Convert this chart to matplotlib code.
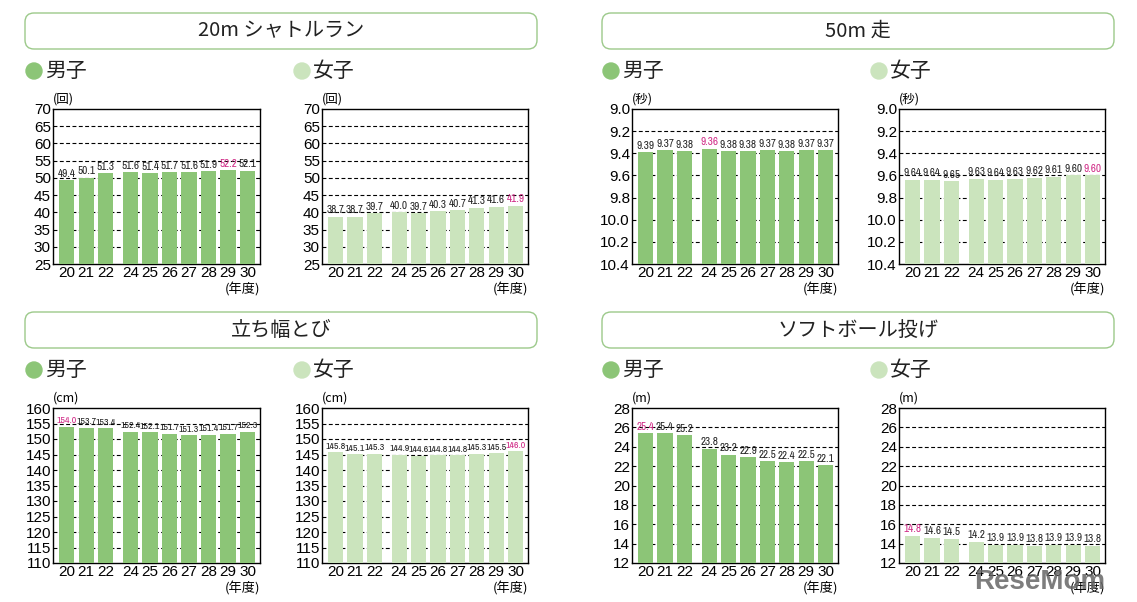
import numpy as np
import matplotlib
matplotlib.use('Agg')
import matplotlib.pyplot as plt
from matplotlib import font_manager as fm
from matplotlib.patches import FancyBboxPatch, Circle

plt.rcParams['font.family'] = ['Noto Sans CJK JP', 'DejaVu Sans']

# data
years = [20, 21, 22, 24, 25, 26, 27, 28, 29, 30]

shuttle_boys = [49.4, 50.1, 51.3, 51.6, 51.4, 51.7, 51.6, 51.9, 52.2, 52.1]
shuttle_girls = [38.7, 38.7, 39.7, 40.0, 39.7, 40.3, 40.7, 41.3, 41.6, 41.9]
dash_boys = [9.39, 9.37, 9.38, 9.36, 9.38, 9.38, 9.37, 9.38, 9.37, 9.37]
dash_girls = [9.64, 9.64, 9.65, 9.63, 9.64, 9.63, 9.62, 9.61, 9.60, 9.60]
jump_boys = [154.0, 153.7, 153.4, 152.4, 152.1, 151.7, 151.3, 151.4, 151.7, 152.3]
jump_girls = [145.8, 145.1, 145.3, 144.9, 144.6, 144.8, 144.8, 145.3, 145.5, 146.0]
throw_boys = [25.4, 25.4, 25.2, 23.8, 23.2, 22.9, 22.5, 22.4, 22.5, 22.1]
throw_girls = [14.8, 14.6, 14.5, 14.2, 13.9, 13.9, 13.8, 13.9, 13.9, 13.8]

# best year (shown in magenta)
best = {'shuttle_boys': 29, 'shuttle_girls': 30, 'dash_boys': 24, 'dash_girls': 30,
        'jump_boys': 20, 'jump_girls': 30, 'throw_boys': 20, 'throw_girls': 20}

titles = ['20m シャトルラン', '50m 走', '立ち幅とび', 'ソフトボール投げ']
units = ['(回)', '(秒)', '(cm)', '(m)']

# colors
col_boys = '#8cc577'
col_girls = '#cbe4bd'
col_best = '#d02a86'
col_box = '#9cc98a'


# pick a narrow font for the value labels if one is installed
def narrow_font():
    cands = []
    for f in fm.fontManager.ttflist:
        nm = f.name
        st = str(f.stretch)
        if f.style != 'normal' or f.weight not in (400, 'normal', 'regular'):
            continue
        if 'Narrow' in nm or 'Condensed' in nm:
            cands.append((0, f.fname))
        elif st in ('condensed', 'semi-condensed', 'extra-condensed', '75', '87.5', '62.5') \
                and nm in ('Noto Sans', 'DejaVu Sans', 'Roboto', 'Open Sans', 'Lato', 'Inter'):
            cands.append((1, f.fname))
    if cands:
        cands.sort()
        return dict(fname=cands[0][1]), 8.0
    return dict(family='Liberation Sans'), 6.8


label_font, label_size = narrow_font()

W, H = 1137, 602
fig = plt.figure(figsize=(W / 100, H / 100), dpi=100)

# overlay in pixel coords for boxes / markers
ov = fig.add_axes([0, 0, 1, 1])
ov.set_xlim(0, W)
ov.set_ylim(H, 0)
ov.axis('off')


def px_rect(x0, y0, x1, y1):
    return [x0 / W, 1 - y1 / H, (x1 - x0) / W, (y1 - y0) / H]


xpos = np.array([i + (0.28 if y > 22 else 0) for i, y in enumerate(years)])


def panel(rect, vals, ylim, ticks, fmt, color, unit, best_year, inverted=False):
    ax = fig.add_axes(px_rect(*rect))
    ax.set_zorder(2)
    lo = ylim[0]
    if inverted:
        base = ylim[1]
        ax.bar(xpos, np.array(vals) - base, bottom=base, width=0.78, color=color, zorder=3)
        ax.set_ylim(ylim[1], ylim[0])
    else:
        ax.bar(xpos, np.array(vals) - lo, bottom=lo, width=0.78, color=color, zorder=3)
        ax.set_ylim(ylim)
    for t in ticks[1:-1]:
        ax.axhline(t, color='black', lw=0.8, dashes=(3.5, 2.2), zorder=1)
    ax.set_yticks(ticks)
    ax.set_yticklabels([fmt.format(t) for t in ticks], fontsize=11, family='Liberation Sans')
    ax.set_xticks(xpos)
    ax.set_xticklabels([str(y) for y in years], fontsize=11, family='Liberation Sans')
    ax.tick_params(length=0, pad=1.5)
    ax.set_xlim(-0.7, 9.92)
    for s in ax.spines.values():
        s.set_linewidth(1.0)
    for x, v, y in zip(xpos, vals, years):
        c = col_best if y == best_year else '#222222'
        txt = f'{v:.2f}' if inverted else f'{v:.1f}'
        fp = fm.FontProperties(size=label_size * (0.88 if len(txt) >= 5 else 1.0), **label_font)
        ax.annotate(txt, (x, v), xytext=(0, 1), textcoords='offset points',
                    ha='center', va='bottom', color=c, fontproperties=fp, zorder=4)
    ax.text(0.0, 1.02, unit, transform=ax.transAxes, fontsize=9, ha='left', va='bottom')
    ax.text(1.0, -0.12, '(年度)', transform=ax.transAxes, fontsize=9.5, ha='right', va='top')
    return ax


# title boxes and legend markers
for row, y0 in enumerate([13, 312]):
    for colx, (bx0, bx1) in enumerate([(25, 537), (602, 1114)]):
        box = FancyBboxPatch((bx0, y0), bx1 - bx0, 36, boxstyle='round,pad=0,rounding_size=9',
                             fc='white', ec=col_box, lw=1.0)
        ov.add_patch(box)
        ov.text((bx0 + bx1) / 2, y0 + 18, titles[row * 2 + colx], ha='center', va='center',
                fontsize=14.5, color='#222222')
        ly = y0 + 58
        for mx, label, c in [(bx0 + 9, '男子', col_boys), (bx0 + 277, '女子', col_girls)]:
            ov.add_patch(Circle((mx, ly), 8, color=c))
            ov.text(mx + 11, ly, label, ha='left', va='center', fontsize=15, color='#222222')

# top row
panel((53, 109, 260, 264), shuttle_boys, (25, 70), list(range(25, 71, 5)), '{:d}',
      col_boys, units[0], best['shuttle_boys'])
panel((322, 109, 528, 264), shuttle_girls, (25, 70), list(range(25, 71, 5)), '{:d}',
      col_girls, units[0], best['shuttle_girls'])
dash_ticks = [9.0, 9.2, 9.4, 9.6, 9.8, 10.0, 10.2, 10.4]
panel((632, 109, 838, 264), dash_boys, (9.0, 10.4), dash_ticks, '{:.1f}',
      col_boys, units[1], best['dash_boys'], inverted=True)
panel((899, 109, 1105, 264), dash_girls, (9.0, 10.4), dash_ticks, '{:.1f}',
      col_girls, units[1], best['dash_girls'], inverted=True)

# bottom row
panel((53, 408, 260, 563), jump_boys, (110, 160), list(range(110, 161, 5)), '{:d}',
      col_boys, units[2], best['jump_boys'])
panel((322, 408, 528, 563), jump_girls, (110, 160), list(range(110, 161, 5)), '{:d}',
      col_girls, units[2], best['jump_girls'])
panel((632, 408, 838, 563), throw_boys, (12, 28), list(range(12, 29, 2)), '{:d}',
      col_boys, units[3], best['throw_boys'])
panel((899, 408, 1105, 563), throw_girls, (12, 28), list(range(12, 29, 2)), '{:d}',
      col_girls, units[3], best['throw_girls'])

fig.text(1040 / W, 1 - 582 / H, 'ReseMom', fontsize=20, fontweight='bold', color='#666666',
         alpha=0.85, ha='center', va='center', family='Liberation Sans', zorder=10)

fig.savefig('out.png', dpi=100)
